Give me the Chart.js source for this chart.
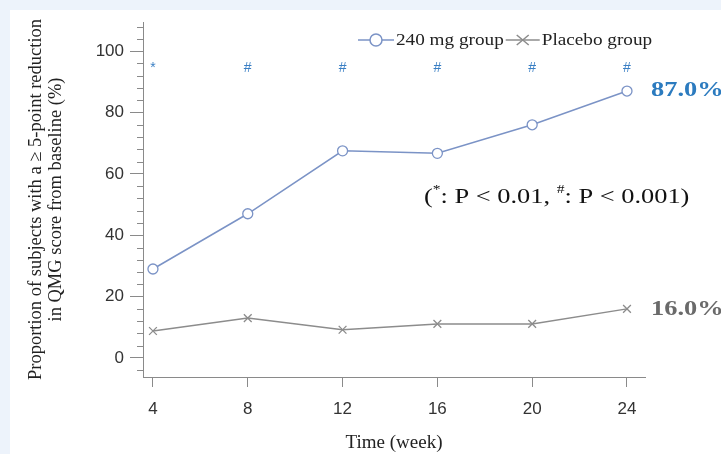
<!DOCTYPE html>
<html>
<head>
<meta charset="utf-8">
<script src="https://cdn.jsdelivr.net/npm/chart.js@4"></script>
<style>
  html, body { margin: 0; padding: 0; }
  body { width: 721px; height: 454px; background: #edf3fb; position: relative; overflow: hidden; }
  #panel { position: absolute; left: 10px; top: 10px; width: 711px; height: 444px; background: #ffffff; }
  #c { position: absolute; left: 0; top: 0; }
</style>
</head>
<body>
<div id="panel"></div>
<canvas id="c" width="721" height="454"></canvas>
<script>
// ---- data ----
const weeks = [4, 8, 12, 16, 20, 24];
const dose240 = [29, 47, 67.5, 66.7, 76, 87];
const placebo = [8.8, 13, 9.2, 11.1, 11.1, 16];
const sigMarks = ['*', '#', '#', '#', '#', '#'];
const yMajorTicks = [0, 20, 40, 60, 80, 100];
const yMinorStep = 4;
const seriesNames = ['240 mg group', 'Placebo group'];
const yTitle = ['Proportion of subjects with a \u2265 5-point reduction', 'in QMG score from baseline (%)'];
const xTitle = 'Time (week)';

const C_DOSE = '#7b93c6';
const C_PLAC = '#8c8c8c';
const C_AXIS = '#8a8a8a';
const SERIF = '"Liberation Serif", "Times New Roman", serif';
const SANS = '"Liberation Sans", Arial, sans-serif';

// draws text horizontally stretched by sx, returns the advance width
function wideText(ctx, t, x, y, sx) {
  ctx.save();
  ctx.translate(x, y);
  ctx.scale(sx, 1);
  ctx.fillText(t, 0, 0);
  ctx.restore();
  return ctx.measureText(t).width * sx;
}

const overlay = {
  id: 'overlay',
  afterDraw(chart) {
    const ctx = chart.ctx;
    const xs = chart.scales.x, ys = chart.scales.y;
    ctx.save();
    // minor ticks on the y axis
    ctx.strokeStyle = C_AXIS; ctx.lineWidth = 1;
    for (let v = Math.ceil(ys.min / yMinorStep) * yMinorStep; v <= ys.max; v += yMinorStep) {
      if (yMajorTicks.includes(v)) continue;
      const py = Math.round(ys.getPixelForValue(v)) + 0.5;
      ctx.beginPath(); ctx.moveTo(xs.left - 6, py); ctx.lineTo(xs.left, py); ctx.stroke();
    }
    // significance markers
    ctx.fillStyle = '#3a7fc4';
    ctx.font = '14px ' + SANS;
    ctx.textAlign = 'center'; ctx.textBaseline = 'middle';
    weeks.forEach((w, i) => {
      ctx.fillText(sigMarks[i], xs.getPixelForValue(w), ys.getPixelForValue(94.5));
    });
    // end labels
    const last = weeks.length - 1;
    ctx.textAlign = 'left';
    ctx.font = 'bold 22px ' + SERIF;
    ctx.fillStyle = '#2c7bbf';
    wideText(ctx, dose240[last].toFixed(1) + '%', xs.getPixelForValue(weeks[last]) + 24, ys.getPixelForValue(dose240[last]) - 1, 1.2);
    ctx.fillStyle = '#6a6a6a';
    wideText(ctx, placebo[last].toFixed(1) + '%', xs.getPixelForValue(weeks[last]) + 24, ys.getPixelForValue(placebo[last]), 1.2);
    // p-value note with superscripts
    const parts = [['(', false], ['*', true], [': P < 0.01, ', false], ['#', true], [': P < 0.001)', false]];
    let x = 424; const y = 196;
    ctx.fillStyle = '#111';
    ctx.textBaseline = 'alphabetic';
    parts.forEach(([t, sup]) => {
      ctx.font = (sup ? '13px ' : '22px ') + SERIF;
      x += wideText(ctx, t, x, sup ? y - 3 : y + 7, 1.2);
    });
    // legend
    const ly = 40;
    ctx.font = '16px ' + SERIF;
    ctx.textBaseline = 'middle';
    let lx = 358;
    const drawItem = (color, style, label, segW) => {
      ctx.strokeStyle = color; ctx.lineWidth = 1.5;
      ctx.beginPath(); ctx.moveTo(lx, ly); ctx.lineTo(lx + segW, ly); ctx.stroke();
      const cx = lx + segW / 2;
      if (style === 'circle') {
        ctx.fillStyle = '#fff';
        ctx.beginPath(); ctx.arc(cx, ly, 6, 0, Math.PI * 2); ctx.fill(); ctx.stroke();
      } else {
        ctx.beginPath();
        ctx.moveTo(cx - 6, ly - 5); ctx.lineTo(cx + 6, ly + 5);
        ctx.moveTo(cx + 6, ly - 5); ctx.lineTo(cx - 6, ly + 5);
        ctx.stroke();
      }
      ctx.fillStyle = '#222';
      lx += segW + 2;
      lx += wideText(ctx, label, lx, ly + 1, 1.2) + 2;
    };
    drawItem(C_DOSE, 'circle', seriesNames[0], 36);
    drawItem(C_PLAC, 'cross', seriesNames[1], 34);
    ctx.restore();
  }
};

new Chart(document.getElementById('c'), {
  type: 'line',
  data: {
    datasets: [
      {
        label: seriesNames[0],
        data: weeks.map((w, i) => ({ x: w, y: dose240[i] })),
        borderColor: C_DOSE, backgroundColor: '#ffffff',
        borderWidth: 1.5, pointStyle: 'circle', pointRadius: 5,
        pointBorderWidth: 1.3, pointBorderColor: C_DOSE, pointBackgroundColor: '#ffffff',
        tension: 0
      },
      {
        label: seriesNames[1],
        data: weeks.map((w, i) => ({ x: w, y: placebo[i] })),
        borderColor: C_PLAC, backgroundColor: C_PLAC,
        borderWidth: 1.5, pointStyle: 'crossRot', pointRadius: 5.5,
        pointBorderWidth: 1.3, pointBorderColor: C_PLAC,
        tension: 0
      }
    ]
  },
  options: {
    responsive: false,
    animation: false,
    layout: { padding: { left: 0, top: 22, right: 76, bottom: 0 } },
    plugins: { legend: { display: false }, tooltip: { enabled: false } },
    scales: {
      x: {
        type: 'linear', min: 3.58, max: 24.76,
        afterBuildTicks: s => { s.ticks = weeks.map(v => ({ value: v })); },
        afterFit: s => { s.height = 77; },
        grid: { drawOnChartArea: false, drawTicks: true, tickLength: 10, tickColor: C_AXIS, lineWidth: 1 },
        border: { color: C_AXIS, width: 1 },
        ticks: { padding: 12, color: '#333', font: { family: SANS, size: 17 } },
        title: { display: true, text: xTitle, color: '#222', font: { family: SERIF, size: 19 }, padding: { top: 0, bottom: 0 } }
      },
      y: {
        type: 'linear', min: -6.2, max: 109.5,
        afterBuildTicks: s => { s.ticks = yMajorTicks.map(v => ({ value: v })); },
        afterFit: s => { s.width = 143; },
        grid: { drawOnChartArea: false, drawTicks: true, tickLength: 13, tickColor: C_AXIS, lineWidth: 1 },
        border: { color: C_AXIS, width: 1 },
        ticks: { padding: 6, color: '#333', font: { family: SANS, size: 17 } },
        title: { display: true, text: yTitle, color: '#222', font: { family: SERIF, size: 18.5, lineHeight: 1.08 }, padding: { top: 26, bottom: 0 } }
      }
    }
  },
  plugins: [overlay]
});
</script>
</body>
</html>
